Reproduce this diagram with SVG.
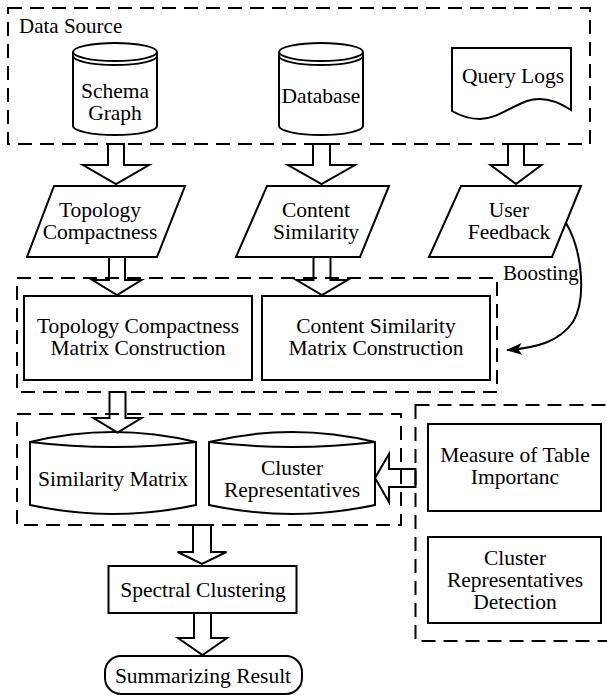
<svg xmlns="http://www.w3.org/2000/svg" width="607" height="695" viewBox="0 0 607 695">
  <style>
    .shape { fill: #fff; stroke: #000; stroke-width: 2; }
    .line { fill: none; stroke: #000; stroke-width: 2; }
    .group { fill: none; stroke: #000; stroke-width: 2; stroke-dasharray: 14 8; }
    .block { fill: none; stroke: #000; stroke-width: 2; stroke-linejoin: miter; }
    .label { font-size: 21.5px; text-anchor: middle; fill: #000; }
    .title { font-size: 21px; fill: #000; }
  </style>
  <defs>
    <marker id="stealth" viewBox="0 0 16 12" refX="15" refY="6" markerWidth="16" markerHeight="12" markerUnits="userSpaceOnUse" orient="auto">
      <path d="M0,0 L16,6 L0,12 L4,6 Z" fill="#000"/>
    </marker>
  </defs>

  <g font-family="Liberation Serif, Tinos, DejaVu Serif, Times New Roman, serif">
  <!-- dashed grouping frames -->
  <g id="frames">
    <rect id="frame-data-source" class="group" x="8" y="8" width="582" height="136"/>
    <rect id="frame-matrix-construction" class="group" x="17" y="278" width="480" height="114"/>
    <rect id="frame-matrices" class="group" x="17" y="414" width="384" height="111"/>
    <rect id="frame-representatives" class="group" x="415.5" y="405" width="200" height="236"/>
    <text class="title" x="19" y="33">Data Source</text>
  </g>

  <!-- nodes -->
  <g id="schema-graph">
    <path class="shape" d="M73,52 A42,9 0 0 1 157,52 V126 A42,9 0 0 1 73,126 Z"/>
    <path class="line" d="M73,52 A42,9 0 0 0 157,52"/>
    <path class="line" d="M73,56 A42,9 0 0 0 157,56"/>
    <text class="label" x="115" y="98">Schema</text>
    <text class="label" x="115" y="120">Graph</text>
  </g>

  <g id="database">
    <path class="shape" d="M279,52 A42,9 0 0 1 363,52 V126 A42,9 0 0 1 279,126 Z"/>
    <path class="line" d="M279,52 A42,9 0 0 0 363,52"/>
    <path class="line" d="M279,56 A42,9 0 0 0 363,56"/>
    <text class="label" x="321" y="103">Database</text>
  </g>

  <g id="query-logs">
    <path class="shape" d="M452,48 H571 V110 C556,100 542,96 527,101 C508,108 496,119 480,119 C467,119 459,115 452,111 Z"/>
    <text class="label" x="513" y="83">Query Logs</text>
  </g>

  <g id="topology-compactness">
    <polygon class="shape" points="54,186 185,186 157,257 27,257"/>
    <text class="label" x="100" y="217">Topology</text>
    <text class="label" x="100" y="239">Compactness</text>
  </g>

  <g id="content-similarity">
    <polygon class="shape" points="267,186 389,186 360,257 236,257"/>
    <text class="label" x="316" y="217">Content</text>
    <text class="label" x="316" y="239">Similarity</text>
  </g>

  <g id="user-feedback">
    <polygon class="shape" points="461,186 581,186 552,257 429,257"/>
    <text class="label" x="509" y="217">User</text>
    <text class="label" x="509" y="239">Feedback</text>
  </g>

  <g id="topology-matrix-construction">
    <rect class="shape" x="24" y="296" width="228" height="84"/>
    <text class="label" x="138" y="333">Topology Compactness</text>
    <text class="label" x="138" y="355">Matrix Construction</text>
  </g>

  <g id="content-matrix-construction">
    <rect class="shape" x="262" y="296" width="228" height="84"/>
    <text class="label" x="376" y="333">Content Similarity</text>
    <text class="label" x="376" y="355">Matrix Construction</text>
  </g>

  <g id="similarity-matrix">
    <path class="shape" d="M30,442 Q113,422 196,442 V505 Q113,523 30,505 Z"/>
    <path class="line" d="M30,442 Q113,452 196,442"/>
    <text class="label" x="113" y="486">Similarity Matrix</text>
  </g>

  <g id="cluster-representatives">
    <path class="shape" d="M209,442 Q292,422 375,442 V505 Q292,523 209,505 Z"/>
    <path class="line" d="M209,442 Q292,452 375,442"/>
    <text class="label" x="292" y="475">Cluster</text>
    <text class="label" x="292" y="497">Representatives</text>
  </g>

  <g id="table-importance">
    <rect class="shape" x="428" y="424" width="173" height="87"/>
    <text class="label" x="515" y="462">Measure of Table</text>
    <text class="label" x="515" y="484">Importanc</text>
  </g>

  <g id="representative-detection">
    <rect class="shape" x="428" y="537" width="173" height="86"/>
    <text class="label" x="515" y="565">Cluster</text>
    <text class="label" x="515" y="587">Representatives</text>
    <text class="label" x="515" y="609">Detection</text>
  </g>

  <g id="spectral-clustering">
    <rect class="shape" x="108.5" y="566" width="188" height="47"/>
    <text class="label" x="203" y="597">Spectral Clustering</text>
  </g>

  <g id="summarizing-result">
    <rect class="shape" x="105" y="656" width="197" height="38" rx="16" ry="16"/>
    <text class="label" x="203" y="683">Summarizing Result</text>
  </g>

  <!-- connectors -->
  <g id="connectors">
    <polygon class="block" points="108,144 124,144 124,165 149,165 116,184 83,165 108,165"/>
    <polygon class="block" points="313,144 330,144 330,165 355,165 321.5,184 288,165 313,165"/>
    <polygon class="block" points="508,144 524,144 524,165 541.5,165 516,184 490.5,165 508,165"/>
    <polygon class="block" points="109,257 125,257 125,280 141.5,280 117,295 92.5,280 109,280"/>
    <polygon class="block" points="313.5,257 330.5,257 330.5,280 347.5,280 322,295 296.5,280 313.5,280"/>
    <polygon class="block" points="109.5,392 125.5,392 125.5,418 141.5,418 117.5,432.5 93.5,418 109.5,418"/>
    <polygon class="block" points="193,525 211,525 211,552 226.5,552 202,564 177.5,552 193,552"/>
    <polygon class="block" points="194,613 211,613 211,638 227,638 202.5,655 178,638 194,638"/>
    <polygon class="block" points="415.5,469 389,469 389,454 375,478 389,502 389,487 415.5,487"/>
    <path class="line" d="M566,223 C582,250 587,298 573,322 C559,342 536,348 507,350" marker-end="url(#stealth)"/>
    <text class="title" x="503" y="280">Boosting</text>
  </g>
  </g>
</svg>
